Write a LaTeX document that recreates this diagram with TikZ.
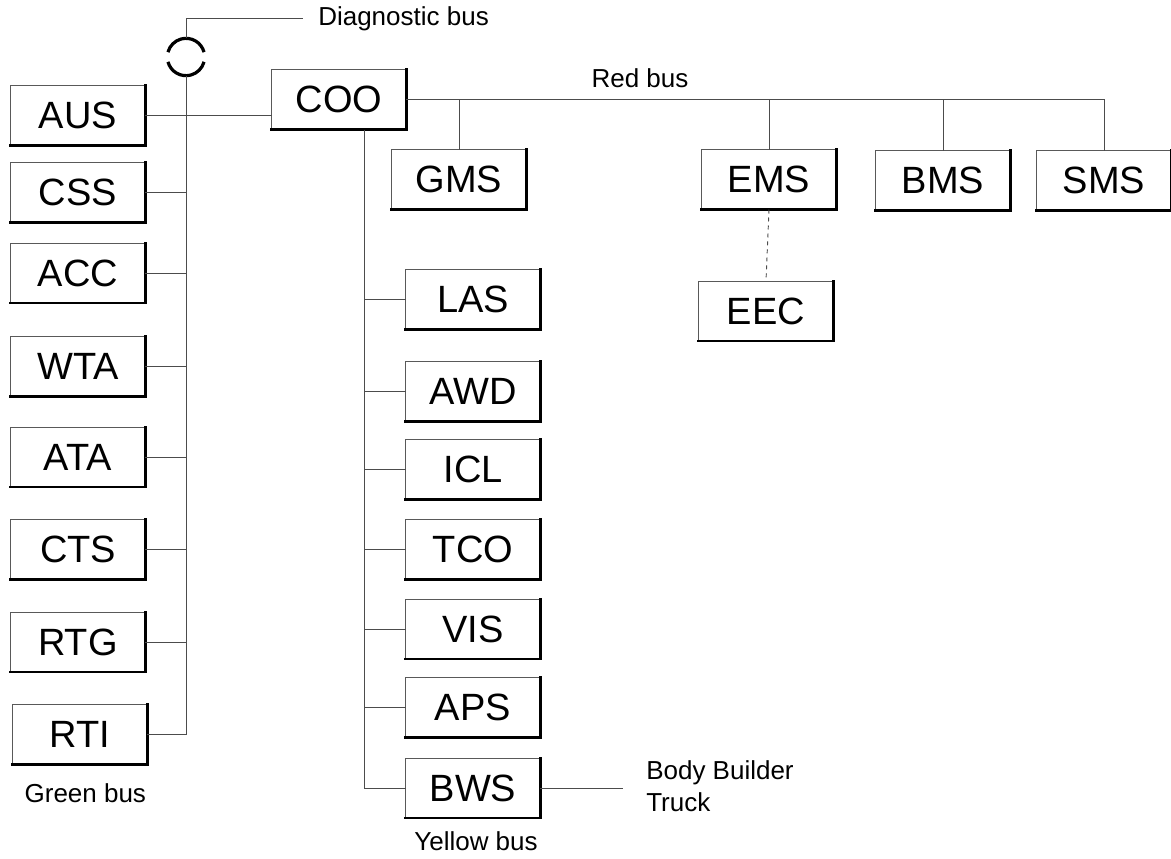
\documentclass[tikz,border=0pt]{standalone}
\usepackage{fontspec}
\setmainfont{Liberation Sans}
\usetikzlibrary{positioning}

\begin{document}
\begin{tikzpicture}[x=0.75pt,y=-0.75pt,
 box/.style={draw=black!65,line width=0.6pt,minimum width=101pt,minimum height=45pt,
  inner sep=0pt,outer sep=0pt,font=\fontsize{28.5}{30}\selectfont},
 rim/.style={line width=2.2pt,line cap=rect},
 bus/.style={draw=black!70,line width=0.7pt},
 lbl/.style={font=\fontsize{19.5}{24}\selectfont,inner sep=0pt}]
\useasboundingbox (0,0) rectangle (1171,858);
% green bus side
\node[circle,inner sep=0pt,outer sep=0pt,minimum size=28pt] (conn) at (186,57) {};
\draw[line width=2.4pt] (conn.15) arc[start angle=15,end angle=165,radius=14pt];
\draw[line width=2.4pt] (conn.195) arc[start angle=195,end angle=345,radius=14pt];
\coordinate (diagend) at (303,18);
\node[lbl,anchor=west] (diag) at (318,19) {Diagnostic bus};
\draw[bus] (conn.north) |- (diagend);
\node[box] (aus) at (78,115.5) {AUS};
\node[box] (css) at (78,192.5) {CSS};
\node[box] (acc) at (78,273) {ACC};
\node[box] (wta) at (78,366.5) {WTA};
\node[box] (ata) at (78,457) {ATA};
\node[box] (cts) at (78,549.5) {CTS};
\node[box] (rtg) at (78,642) {RTG};
\node[box] (rti) at (80,734.5) {RTI};
\node[lbl,below=14pt of rti,xshift=4pt] (green) {Green bus};
% central unit and red bus
\node[box] (coo) at (339,99.5) {COO};
\node[lbl] (red) at (640,78) {Red bus};
\node[box] (gms) at (459,179.5) {GMS};
\node[box] (ems) at (769,179.5) {EMS};
\node[box] (bms) at (943,180.5) {BMS};
\node[box] (sms) at (1104,180.5) {SMS};
\node[box] (eec) at (766,311) {EEC};
% yellow bus side
\coordinate (ybus) at (364,0);
\node[box] (las) at (473,299.5) {LAS};
\node[box] (awd) at (473,391.5) {AWD};
\node[box] (icl) at (473,469.5) {ICL};
\node[box] (tco) at (473,549.5) {TCO};
\node[box] (vis) at (473,629) {VIS};
\node[box] (aps) at (473,707.5) {APS};
\node[box] (bws) at (473,788) {BWS};
\node[lbl] (yellow) at (476,841) {Yellow bus};
\coordinate (bbend) at (623,788);
\node[lbl,align=left,anchor=west] (bbtruck) at (646,786) {Body Builder\\Truck};

\foreach \n in {aus,css,acc,wta,ata,cts,rtg,rti,coo,gms,ems,bms,sms,eec,las,awd,icl,tco,vis,aps,bws}
 \draw[rim] (\n.north east) -- (\n.south east) -- (\n.south west);

\draw[bus] (conn.south) -- (rti.east -| conn.south) -- (rti.east);
\foreach \n in {css,acc,wta,ata,cts,rtg}
 \draw[bus] (\n.east) -- (\n.east -| conn.south);
\draw[bus] (aus.east) -- (aus.east -| coo.west);
\draw[bus] (coo.east) -| (sms.north);
\foreach \n in {gms,ems,bms}
 \draw[bus] (\n.north) -- (\n.north |- coo.east);
\draw[bus,dashed] (ems.south) -- (eec.north);
\draw[bus] (coo.south -| ybus) |- (bws.west);
\foreach \n in {las,awd,icl,tco,vis,aps}
 \draw[bus] (\n.west) -- (\n.west -| ybus);
\draw[bus] (bws.east) -- (bbend);
\end{tikzpicture}
\end{document}
